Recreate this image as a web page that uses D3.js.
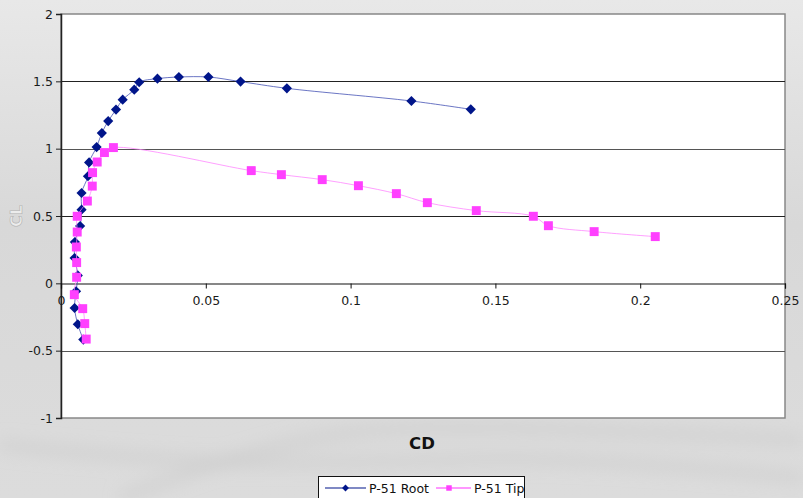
<!DOCTYPE html>
<html>
<head>
<meta charset="utf-8">
<script src="https://cdn.jsdelivr.net/npm/d3@7/dist/d3.min.js"></script>
<style>
  html, body { margin: 0; padding: 0; overflow: hidden; }
  svg { display: block; font-family: "DejaVu Sans", sans-serif; }
</style>
</head>
<body>
<div id="chart"></div>
<script>
'use strict';

// Data (CD, CL)
const rootCD = [0.0077, 0.0058, 0.0047, 0.0052, 0.0058, 0.0047, 0.0048, 0.0066, 0.0071, 0.0071,
    0.0093, 0.0097, 0.0123, 0.0141, 0.0163, 0.0190, 0.0213, 0.0253, 0.0270, 0.0333,
    0.0407, 0.0509, 0.0620, 0.0780, 0.1210, 0.1415];
const rootCL = [-0.418, -0.304, -0.183, -0.059, 0.059, 0.188, 0.307, 0.426, 0.547, 0.671,
    0.795, 0.898, 1.012, 1.116, 1.205, 1.290, 1.364, 1.438, 1.493, 1.520,
    1.532, 1.532, 1.498, 1.448, 1.354, 1.292];
const tipCD = [0.0087, 0.0082, 0.0075, 0.0046, 0.0054, 0.0054, 0.0053, 0.0056, 0.0056, 0.0091,
    0.0108, 0.0109, 0.0125, 0.0150, 0.0181, 0.0657, 0.0761, 0.0902, 0.1027, 0.1158,
    0.1265, 0.1434, 0.1631, 0.1683, 0.1841, 0.2052];
const tipCL = [-0.414, -0.299, -0.188, -0.084, 0.045, 0.154, 0.270, 0.381, 0.498, 0.611,
    0.722, 0.822, 0.901, 0.971, 1.008, 0.837, 0.807, 0.770, 0.725, 0.666,
    0.599, 0.540, 0.498, 0.428, 0.384, 0.347];
const xTicks = [0, 0.05, 0.1, 0.15, 0.2, 0.25];
const yTicks = [-1, -0.5, 0, 0.5, 1, 1.5, 2];
const seriesNames = ['P-51 Root', 'P-51 Tip'];

// Config
const svgW = 803;
const svgH = 498;
const plot = {left: 61, right: 785, top: 14, bottom: 418};

const x = d3.scaleLinear().domain([0, 0.25]).range([plot.left, plot.right]);
const y = d3.scaleLinear().domain([-1, 2]).range([plot.bottom, plot.top]);

// Plain hyphen-minus like the original, not the unicode minus
const plainFmt = d => String(d);

const svg = d3.select('#chart')
    .append('svg')
    .attr('width', svgW)
    .attr('height', svgH);

// Background (stand-in for the grey aerial photo)
const defs = svg.append('defs');
const grad = defs.append('linearGradient')
    .attr('id', 'bg')
    .attr('x1', 0).attr('y1', 0).attr('x2', 0).attr('y2', 1);
grad.append('stop').attr('offset', '0%').attr('stop-color', '#e8e8e8');
grad.append('stop').attr('offset', '45%').attr('stop-color', '#d8d8d8');
grad.append('stop').attr('offset', '100%').attr('stop-color', '#dcdcdc');
const blur = defs.append('filter').attr('id', 'blur');
blur.append('feGaussianBlur').attr('stdDeviation', 8);

svg.append('rect')
    .attr('width', svgW)
    .attr('height', svgH)
    .attr('fill', 'url(#bg)');

// Some soft terrain streaks
const streaks = [
    [[0, 445], [260, 470], [520, 452], [803, 478]],
    [[120, 498], [300, 432], [470, 424], [803, 440]]
];
svg.append('g')
    .attr('filter', 'url(#blur)')
    .selectAll('path')
    .data(streaks)
    .join('path')
    .attr('d', d3.line().curve(d3.curveBasis))
    .attr('fill', 'none')
    .attr('stroke', '#cacaca')
    .attr('stroke-width', 12)
    .attr('opacity', 0.5);

// Plot area
svg.append('rect')
    .attr('x', plot.left)
    .attr('y', plot.top)
    .attr('width', plot.right - plot.left)
    .attr('height', plot.bottom - plot.top)
    .attr('fill', '#fff')
    .attr('stroke', '#888')
    .attr('stroke-width', 1.5);

// Gridlines
svg.append('g')
    .selectAll('line')
    .data(yTicks.filter(d => d !== 0 && d !== -1 && d !== 2))
    .join('line')
    .attr('x1', plot.left)
    .attr('x2', plot.right)
    .attr('y1', d => Math.round(y(d)) + 0.5)
    .attr('y2', d => Math.round(y(d)) + 0.5)
    .attr('stroke', (d, i) => i % 2 ? '#222' : '#555')
    .attr('stroke-width', 1.2);

// Y axis
const yAxis = svg.append('g')
    .attr('transform', `translate(${plot.left},0)`)
    .call(d3.axisLeft(y).tickValues(yTicks).tickSize(5).tickPadding(3)
        .tickFormat(plainFmt));
yAxis.select('.domain').attr('stroke', '#222').attr('stroke-width', 1.5);
yAxis.selectAll('.tick line').attr('stroke', '#222');
yAxis.selectAll('.tick text')
    .attr('font-size', 12.5)
    .attr('fill', '#1a1a1a')
    .attr('font-family', '"DejaVu Sans", sans-serif');

// X axis at CL = 0
const xAxis = svg.append('g')
    .attr('transform', `translate(0,${Math.round(y(0)) + 0.5})`)
    .call(d3.axisBottom(x).tickValues(xTicks).tickSize(5).tickPadding(8)
        .tickFormat(plainFmt));
xAxis.select('.domain').attr('stroke', '#111').attr('stroke-width', 1.2);
xAxis.selectAll('.tick line').attr('stroke', '#111');
xAxis.selectAll('.tick text')
    .attr('font-size', 12.5)
    .attr('fill', '#1a1a1a')
    .attr('font-family', '"DejaVu Sans", sans-serif');

// Axis titles
svg.append('text')
    .attr('x', 422)
    .attr('y', 449)
    .attr('text-anchor', 'middle')
    .attr('font-size', 16.5)
    .attr('font-weight', 'bold')
    .attr('fill', '#111')
    .text('CD');

svg.append('text')
    .attr('transform', 'translate(22,216) rotate(-90)')
    .attr('text-anchor', 'middle')
    .attr('font-size', 16)
    .attr('font-weight', 'bold')
    .attr('fill', '#ececec')
    .attr('stroke', '#b0b0b0')
    .attr('stroke-width', 0.6)
    .text('CL');

// Series
const series = [
    {name: seriesNames[0], cd: rootCD, cl: rootCL, line: '#3a48b0', mark: '#00158a', shape: d3.symbolDiamond2, size: 66},
    {name: seriesNames[1], cd: tipCD, cl: tipCL, line: '#ff80ff', mark: '#ff40ff', shape: d3.symbolSquare, size: 80}
];
series.forEach(s => s.pts = s.cd.map((c, i) => [x(c), y(s.cl[i])]));

const lineMaker = d3.line().curve(d3.curveCatmullRom.alpha(0.5));

const seriesG = svg.append('g');
series.forEach(s => {
    const g = seriesG.append('g');
    g.append('path')
        .attr('d', lineMaker(s.pts))
        .attr('fill', 'none')
        .attr('stroke', s.line)
        .attr('stroke-width', 1)
        .attr('stroke-opacity', 0.75);
    g.selectAll('path.mark')
        .data(s.pts)
        .join('path')
        .attr('class', 'mark')
        .attr('transform', d => `translate(${d[0]},${d[1]})`)
        .attr('d', d3.symbol().type(s.shape).size(s.size))
        .attr('fill', s.mark);
});

// Legend
const legend = svg.append('g');
legend.append('rect')
    .attr('x', 318.5)
    .attr('y', 476.5)
    .attr('width', 206)
    .attr('height', 30)
    .attr('fill', '#fff')
    .attr('stroke', '#111')
    .attr('stroke-width', 1);
const legendItems = [
    {x1: 325, x2: 366, tx: 369},
    {x1: 436, x2: 471, tx: 474}
];
legendItems.forEach((it, i) => {
    const s = series[i];
    const ly = 488;
    legend.append('line')
        .attr('x1', it.x1).attr('x2', it.x2)
        .attr('y1', ly).attr('y2', ly)
        .attr('stroke', i === 0 ? '#00158a' : '#ff30ff')
        .attr('stroke-width', 1.2);
    legend.append('path')
        .attr('transform', `translate(${(it.x1 + it.x2) / 2 - (i === 0 ? 0 : 4.5)},${ly})`)
        .attr('d', d3.symbol().type(s.shape).size(30))
        .attr('fill', s.mark);
    legend.append('text')
        .attr('x', it.tx)
        .attr('y', ly + 4.5)
        .attr('font-size', 12.5)
        .attr('fill', '#111')
        .text(s.name);
});
</script>
</body>
</html>
